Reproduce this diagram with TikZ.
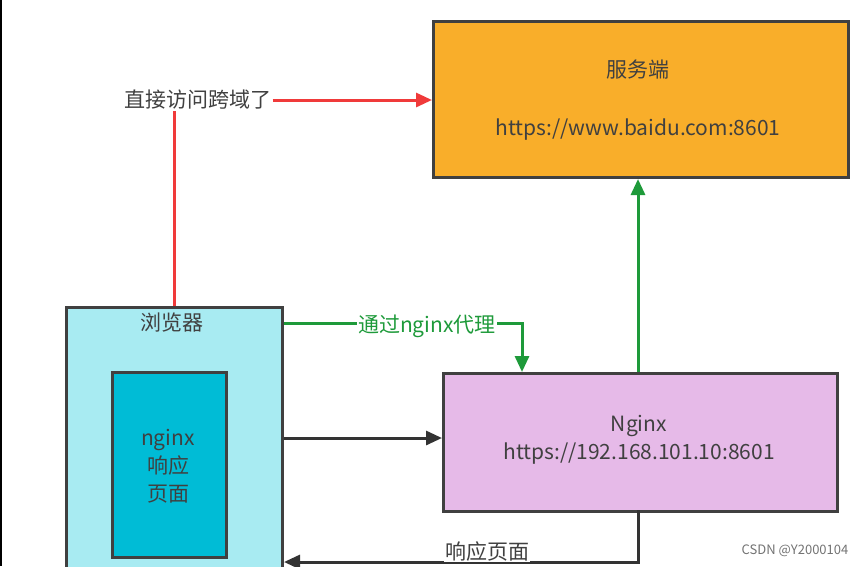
\documentclass[tikz,border=0pt]{standalone}
\usepackage{fontspec}
\setmainfont{Noto Sans CJK SC}
\usetikzlibrary{arrows.meta, positioning}
\definecolor{srvfill}{HTML}{F9AE2A}
\definecolor{brwfill}{HTML}{A8EBF2}
\definecolor{pagefill}{HTML}{00BCD6}
\definecolor{ngxfill}{HTML}{E6BAE8}
\definecolor{arrred}{HTML}{F03A3A}
\definecolor{arrgreen}{HTML}{1E9A3A}
\definecolor{txtgray}{HTML}{404040}
\tikzset{
    box/.style={rectangle, draw=black!75, line width=3pt, anchor=north west, inner sep=0pt},
    lbl/.style={font=\fontsize{21}{28}\selectfont, text=txtgray, align=center, inner sep=1pt},
    arrow/.style={-{Triangle[length=16pt, width=14pt]}, line width=3pt}
}
\begin{document}
\begin{tikzpicture}[x=1pt, y=-1pt]
    \useasboundingbox (0,0) rectangle (867,566);
    \clip (0,0) rectangle (867,566);
    \draw[black, line width=2pt] (1,0) -- (1,566);

    % Boxes
    \node[box, fill=srvfill, minimum width=415pt, minimum height=156pt] (Server) at (432,20) {};
    \node[lbl] (SrvName) at (638,70) {服务端};
    \node[lbl] (SrvUrl) at (638,130) {https://www.baidu.com:8601};

    \node[box, fill=brwfill, minimum width=216pt, minimum height=280pt] (Browser) at (65,306) {};
    \node[lbl] (BrwName) at (172,323) {浏览器};
    \node[box, fill=pagefill, minimum width=114pt, minimum height=185pt] (Page) at (111,371) {};
    \node[lbl] (PageText) at (168,466) {nginx\\响应\\页面};

    \node[box, fill=ngxfill, minimum width=394pt, minimum height=138pt] (Nginx) at (442,372) {};
    \node[lbl] (NgxText) at (639,440) {Nginx\\https://192.168.101.10:8601};

    % Direct access
    \node[lbl] (Direct) at (198,100) {直接访问跨域了};
    \draw[arrred, line width=3pt] (174,306) -- (Direct.south -| 174,0);
    \draw[arrow, arrred] (Direct.east) -- (Server.west |- Direct.east);

    % Via proxy
    \node[lbl, text=arrgreen] (Proxy) at (427,326) {通过nginx代理};
    \coordinate (ProxyIn) at (522,372);
    \draw[arrgreen, line width=3pt] (Browser.north east |- 0,323) -- (Proxy.west |- 0,323);
    \draw[arrow, arrgreen] (Proxy.east |- 0,323) -- (522,323) -- (ProxyIn);
    \draw[arrow, arrgreen] (638,372) -- (Server.south -| 638,0);

    % Request and response
    \draw[arrow, black!80] (284,438) -- (Nginx.west |- 0,438);
    \draw[arrow, black!80] (638,510) -- (638,562) -- (284,562);
    \node[lbl, fill=white, inner sep=1pt] (Resp) at (487,551) {响应页面};

    \node[font=\fontsize{13}{15}\selectfont, text=black!55, fill=white, inner sep=1pt] (Mark) at (795,551) {CSDN @Y2000104};
\end{tikzpicture}
\end{document}
